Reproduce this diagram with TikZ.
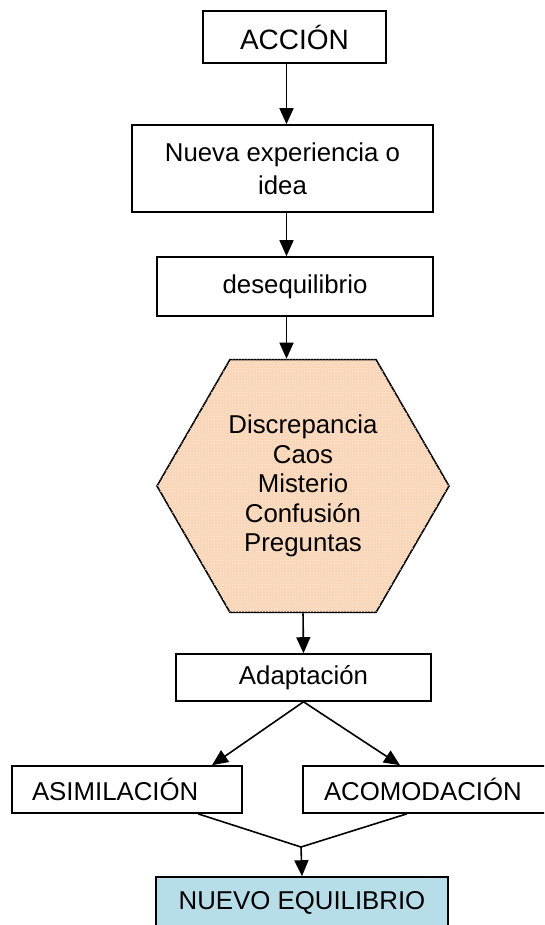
\documentclass[tikz,border=0pt]{standalone}
\usepackage{fontspec}
\setmainfont{Liberation Sans}
\usetikzlibrary{arrows.meta,shapes.geometric,patterns}
\definecolor{peach}{RGB}{250,212,180}
\definecolor{lblue}{RGB}{183,221,232}
\begin{document}
\begin{tikzpicture}[x=1pt,y=-1pt,
  box/.style={draw=black, line width=1.6pt, fill=white, inner sep=0pt, align=center,
    font=\fontsize{25.8}{29.5}\selectfont},
  arr/.style={line width=1.6pt, -{Triangle[length=16pt,width=14pt]}},
  ln/.style={line width=1.6pt}]
\clip (0,0) rectangle (544,925);
\fill[white] (0,0) rectangle (544,925);
% nodes
\node[box, minimum width=183, minimum height=52, font=\fontsize{28}{32}\selectfont] (acc) at (294.5,37) {ACCIÓN};
\node[box, minimum width=301, minimum height=87, font=\fontsize{25.8}{33}\selectfont] (nueva) at (282.5,168.5) {Nueva experiencia o\\idea};
\node[box, minimum width=276, minimum height=59] (deseq) at (295,286.5) {desequilibrio};
\node[box, regular polygon, regular polygon sides=6, minimum size=292, fill=peach,
  postaction={pattern=crosshatch dots, pattern color=white!70!peach}] (hex) at (303,486)
  {Discrepancia\\Caos\\Misterio\\Confusión\\Preguntas};
\node[box, minimum width=255, minimum height=47] (adap) at (303.5,677.5) {Adaptación};
\node[box, text width=190, align=left, inner xsep=20, minimum height=47] (asim) at (127,789.5) {ASIMILACIÓN};
\node[box, text width=215, align=left, inner xsep=21, minimum height=47] (acom) at (431.5,789.5) {ACOMODACIÓN};
\node[box, fill=lblue, minimum width=292, minimum height=52] (nuevo) at (302,903) {NUEVO EQUILIBRIO};
% helper coordinates
\coordinate (ax) at (286.5,0);
\coordinate (la) at (212,0);
\coordinate (ra) at (400,0);
\coordinate (ls) at (198,0);
\coordinate (rs) at (407,0);
\coordinate (j) at (301,847);
% connectors
\draw[arr] (acc.south -| ax) -- (nueva.north -| ax);
\draw[arr] (nueva.south -| ax) -- (deseq.north -| ax);
\draw[arr] (deseq.south -| ax) -- (hex.north -| ax);
\draw[arr] (hex.south) -- (adap.north);
\draw[arr] (adap.south) -- (asim.north -| la);
\draw[arr] (adap.south) -- (acom.north -| ra);
\draw[ln] (asim.south -| ls) -- (j);
\draw[ln] (acom.south -| rs) -- (j);
\draw[arr] (j) -- (nuevo.north);
\end{tikzpicture}
\end{document}
